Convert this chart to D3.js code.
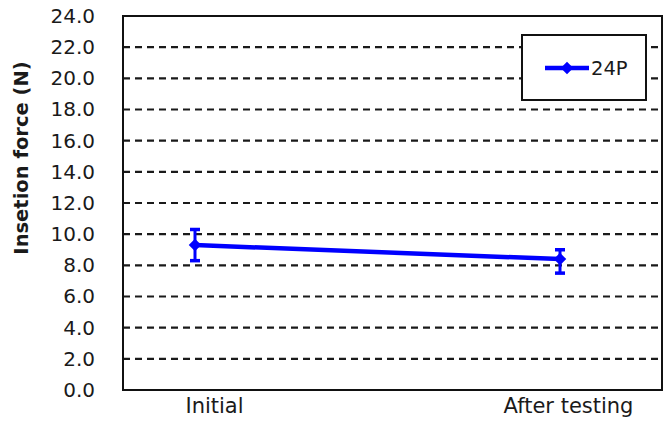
<!DOCTYPE html>
<html><head><meta charset="utf-8">
<script src="https://cdn.jsdelivr.net/npm/d3@7"></script>
<style>body{margin:0;background:#fff}svg{display:block}</style>
</head><body>
<script>
const categories = ["Initial", "After testing"];
const seriesName = "24P";
const means = [9.3, 8.4];
const errPlus = [1.0, 0.6];
const errMinus = [1.0, 0.9];
const yTicks = [0, 2, 4, 6, 8, 10, 12, 14, 16, 18, 20, 22, 24];
const yTitle = "Insetion force (N)";

const W = 670, H = 423;
const m = {left: 123, right: 8, top: 16, bottom: 33};
const svg = d3.select("body").append("svg").attr("width", W).attr("height", H);
const font = "'DejaVu Sans', Verdana, sans-serif";

const y = d3.scaleLinear().domain([0, 24]).range([H - m.bottom, m.top]);
const x = d3.scalePoint().domain(categories).range([m.left + 72, W - m.right - 102]);

// gridlines
svg.append("g").selectAll("line").data(yTicks.filter(t => t > 0 && t < 24)).join("line")
  .attr("x1", m.left).attr("x2", W - m.right)
  .attr("y1", d => y(d)).attr("y2", d => y(d))
  .attr("stroke", "#1a1a1a").attr("stroke-width", 2.2).attr("stroke-dasharray", "7,5");

// y axis labels
const yAxis = svg.append("g").attr("transform", `translate(${m.left},0)`)
  .call(d3.axisLeft(y).tickValues(yTicks).tickFormat(d3.format(".1f")).tickSize(0).tickPadding(28));
yAxis.select(".domain").remove();
yAxis.selectAll("text").attr("font-family", font).attr("font-size", 20).attr("fill", "#1a1a1a");

// x axis labels
const dxOff = [19, 8];
const xAxis = svg.append("g").attr("transform", `translate(0,${H - m.bottom})`)
  .call(d3.axisBottom(x).tickSize(0).tickPadding(8));
xAxis.select(".domain").remove();
xAxis.selectAll("text").attr("font-family", font).attr("font-size", 21).attr("fill", "#1a1a1a")
  .attr("dx", (d, i) => dxOff[i]);

// frame
svg.append("rect").attr("x", m.left).attr("y", m.top)
  .attr("width", W - m.right - m.left).attr("height", H - m.bottom - m.top)
  .attr("fill", "none").attr("stroke", "#111").attr("stroke-width", 2);

// y title
svg.append("text").attr("transform", `translate(28,${158}) rotate(-90)`)
  .attr("text-anchor", "middle").attr("font-family", font).attr("font-weight", "bold")
  .attr("font-size", 19.5).attr("fill", "#1a1a1a").text(yTitle);

const blue = "#0000ff";
const data = categories.map((c, i) => ({c, v: means[i], hi: means[i] + errPlus[i], lo: means[i] - errMinus[i]}));

// error bars
const eb = svg.append("g").attr("stroke", blue);
eb.selectAll(".v").data(data).join("line")
  .attr("x1", d => x(d.c)).attr("x2", d => x(d.c))
  .attr("y1", d => y(d.hi)).attr("y2", d => y(d.lo)).attr("stroke-width", 3);
eb.selectAll(".ct").data(data).join("line")
  .attr("x1", d => x(d.c) - 5).attr("x2", d => x(d.c) + 5)
  .attr("y1", d => y(d.hi)).attr("y2", d => y(d.hi)).attr("stroke-width", 3.5);
eb.selectAll(".cb").data(data).join("line")
  .attr("x1", d => x(d.c) - 5).attr("x2", d => x(d.c) + 5)
  .attr("y1", d => y(d.lo)).attr("y2", d => y(d.lo)).attr("stroke-width", 3.5);

// line
svg.append("path").datum(data)
  .attr("d", d3.line().x(d => x(d.c)).y(d => y(d.v)))
  .attr("fill", "none").attr("stroke", blue).attr("stroke-width", 4.5);

// markers
const diamond = d3.symbol().type(d3.symbolDiamond2).size(100);
svg.selectAll(".mk").data(data).join("path")
  .attr("transform", d => `translate(${x(d.c)},${y(d.v)})`)
  .attr("d", diamond).attr("fill", blue);

// legend
const lg = svg.append("g");
lg.append("rect").attr("x", 522).attr("y", 35).attr("width", 124).attr("height", 65)
  .attr("fill", "#fff").attr("stroke", "#111").attr("stroke-width", 2);
lg.append("line").attr("x1", 545).attr("x2", 589).attr("y1", 68).attr("y2", 68)
  .attr("stroke", blue).attr("stroke-width", 4.5);
lg.append("path").attr("transform", "translate(567,68)").attr("d", diamond).attr("fill", blue);
lg.append("text").attr("x", 591).attr("y", 68).attr("dy", "0.35em")
  .attr("font-family", font).attr("font-size", 19.5).attr("fill", "#1a1a1a").text(seriesName);
</script>
</body></html>
